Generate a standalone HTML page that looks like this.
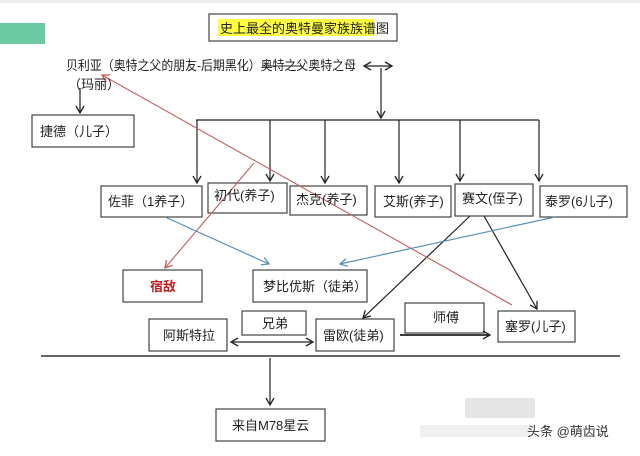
<!DOCTYPE html>
<html><head><meta charset="utf-8"><style>
body{margin:0;width:640px;height:451px;overflow:hidden;background:#fff}
svg text{font-family:"Liberation Sans","Noto Sans CJK SC",sans-serif;font-size:13px;fill:#222}
</style></head><body>
<svg width="640" height="451" viewBox="0 0 640 451" xmlns="http://www.w3.org/2000/svg">
<defs>
<marker id="ab" markerWidth="10" markerHeight="10" refX="8" refY="5" orient="auto-start-reverse" markerUnits="userSpaceOnUse"><path d="M1,1 L8,5 L1,9" fill="none" stroke="#222" stroke-width="1.3"/></marker>
<marker id="ar" markerWidth="10" markerHeight="10" refX="8" refY="5" orient="auto" markerUnits="userSpaceOnUse"><path d="M1,1 L8,5 L1,9" fill="none" stroke="#c06060" stroke-width="1.3"/></marker>
<marker id="al" markerWidth="10" markerHeight="10" refX="8" refY="5" orient="auto" markerUnits="userSpaceOnUse"><path d="M1,1 L8,5 L1,9" fill="none" stroke="#5b8fb0" stroke-width="1.3"/></marker>
</defs>
<rect x="0" y="0" width="640" height="3" fill="#eee"/>
<rect x="0" y="23" width="45" height="21" fill="#6cc9a4"/>
<rect x="465" y="398" width="70" height="20" fill="#e6e6e6"/>
<rect x="420" y="425" width="110" height="12" fill="#f0f0f0"/>
<g fill="#fff" stroke="#444" stroke-width="1.2">
<rect x="209" y="14" width="188" height="27"/>
<rect x="32" y="115" width="102" height="32"/>
<rect x="101" y="186" width="101" height="31"/>
<rect x="208" y="183" width="79" height="30"/>
<rect x="290" y="186" width="77" height="29"/>
<rect x="375" y="186" width="76" height="31"/>
<rect x="455" y="184" width="78" height="32"/>
<rect x="540" y="186" width="87" height="31"/>
<rect x="123" y="270" width="79" height="32"/>
<rect x="253" y="270" width="114" height="32"/>
<rect x="149" y="319" width="78" height="32"/>
<rect x="242" y="311" width="64" height="24"/>
<rect x="316" y="319" width="78" height="32"/>
<rect x="405" y="303" width="79" height="30"/>
<rect x="498" y="311" width="77" height="31"/>
<rect x="216" y="409" width="109" height="32"/>
</g>
<rect x="218" y="19" width="156" height="17" fill="#ffff40"/>
<g stroke="#222" stroke-width="1.2" fill="none">
<line x1="364" y1="66" x2="392" y2="66" marker-end="url(#ab)" marker-start="url(#ab)"/>
<line x1="381" y1="68" x2="381" y2="118" marker-end="url(#ab)"/>
<line x1="80" y1="88" x2="80" y2="113" marker-end="url(#ab)"/>
<line x1="196" y1="120" x2="539" y2="120"/>
<line x1="197" y1="120" x2="197" y2="183" marker-end="url(#ab)"/>
<line x1="270" y1="120" x2="270" y2="181" marker-end="url(#ab)"/>
<line x1="325" y1="120" x2="325" y2="183" marker-end="url(#ab)"/>
<line x1="399" y1="120" x2="399" y2="183" marker-end="url(#ab)"/>
<line x1="460" y1="120" x2="460" y2="181" marker-end="url(#ab)"/>
<line x1="539" y1="120" x2="539" y2="181" marker-end="url(#ab)"/>
<line x1="470" y1="216" x2="363" y2="318" marker-end="url(#ab)"/>
<line x1="484" y1="216" x2="537" y2="309" marker-end="url(#ab)"/>
<line x1="231" y1="342" x2="313" y2="342" marker-end="url(#ab)" marker-start="url(#ab)"/>
<line x1="400" y1="335" x2="490" y2="335" marker-end="url(#ab)" stroke-width="1.8"/>
<line x1="41" y1="356" x2="620" y2="356" stroke="#333" stroke-width="1.5"/>
<line x1="270" y1="358" x2="270" y2="405" marker-end="url(#ab)"/>
</g>
<g stroke="#c06060" stroke-width="1.1" fill="none">
<line x1="512" y1="305" x2="102" y2="75" marker-end="url(#ar)"/>
<line x1="254" y1="163" x2="165" y2="268" marker-end="url(#ar)"/>
</g>
<g stroke="#5b8fb0" stroke-width="1.2" fill="none">
<line x1="165" y1="217" x2="269" y2="264" marker-end="url(#al)"/>
<line x1="555" y1="217" x2="340" y2="264" marker-end="url(#al)"/>
</g>
<text x="220" y="33" font-size="12">史上最全的奥特曼家族族谱图</text>
<text x="66" y="70" font-size="12" textLength="290" lengthAdjust="spacingAndGlyphs">贝利亚（奥特之父的朋友-后期黑化）奥特之父奥特之母</text>
<line x1="262" y1="66" x2="302" y2="66" stroke="#222" stroke-width="1"/>
<text x="68" y="89" font-size="12">（玛丽）</text>
<text x="40" y="136">捷德（儿子）</text>
<text x="108" y="206">佐菲（1养子）</text>
<text x="214" y="200">初代(养子)</text>
<text x="296" y="204">杰克(养子)</text>
<text x="383" y="206">艾斯(养子)</text>
<text x="462" y="203">赛文(侄子)</text>
<text x="545" y="206">泰罗(6儿子)</text>
<text x="150" y="291" style="fill:#c81e1e;font-weight:bold">宿敌</text>
<text x="263" y="291">梦比优斯（徒弟）</text>
<text x="163" y="340">阿斯特拉</text>
<text x="262" y="328">兄弟</text>
<text x="323" y="340">雷欧(徒弟)</text>
<text x="433" y="322">师傅</text>
<text x="505" y="331">塞罗(儿子)</text>
<text x="232" y="430">来自M78星云</text>
<text x="527" y="436" font-size="14" style="fill:#333">头条 @萌齿说</text>
</svg>
</body></html>
